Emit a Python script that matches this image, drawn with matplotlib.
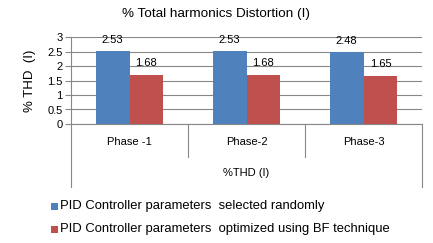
import matplotlib.pyplot as plt
import numpy as np
from matplotlib import rcParams
from matplotlib.patches import Rectangle

rcParams.update({
    "font.family": ["Liberation Sans", "DejaVu Sans"],
})

phases = ["Phase -1", "Phase-2", "Phase-3"]
group_label = "%THD (I)"
random_vals = [2.53, 2.53, 2.48]
bf_vals = [1.68, 1.68, 1.65]
series_names = ["PID Controller parameters  selected randomly",
                "PID Controller parameters  optimized using BF technique"]
yticks = [0, 0.5, 1, 1.5, 2, 2.5, 3]

W, H = 433, 243
fig = plt.figure(figsize=(W / 100, H / 100), dpi=100, facecolor="white")

# plot area in pixel coords
x0, x1, ytop, ybot = 71, 422, 37, 124
ax = fig.add_axes([x0 / W, 1 - ybot / H, (x1 - x0) / W, (ybot - ytop) / H])

blue, red = "#4F81BD", "#C0504D"
grid = "#878787"
x = np.arange(len(phases))
bw = 0.29
ax.bar(x - bw / 2, random_vals, bw, color=blue, zorder=3)
ax.bar(x + bw / 2, bf_vals, bw, color=red, zorder=3)

for xi, v in zip(x, random_vals):
    ax.annotate(f"{v:.2f}", (xi - bw / 2, v), xytext=(0, 6), textcoords="offset pixels",
                ha="center", va="bottom", fontsize=8, zorder=4)
for xi, v in zip(x, bf_vals):
    ax.annotate(f"{v:.2f}", (xi + bw / 2, v), xytext=(0, 7), textcoords="offset pixels",
                ha="center", va="bottom", fontsize=8, zorder=4)

ax.set_xlim(-0.5, len(phases) - 0.5)
ax.set_ylim(0, 3)
ax.set_yticks(yticks)
ax.set_yticklabels([f"{t:g}" for t in yticks], fontsize=8)
ax.yaxis.grid(True, color=grid, lw=0.8, zorder=0)
ax.tick_params(axis="y", length=4, color=grid, pad=2)
ax.set_xticks([])
for s in ["top", "right"]:
    ax.spines[s].set_visible(False)
for s in ["left", "bottom"]:
    ax.spines[s].set_color(grid)
    ax.spines[s].set_linewidth(0.8)
ax.set_ylabel("% THD  (I)", fontsize=9.5, labelpad=8)

# multi-level category axis drawn below
trans = ax.get_xaxis_transform()
def ypix(py):
    return (ybot - py) / (ybot - ytop)

for i, b in enumerate(np.arange(len(phases) + 1) - 0.5):
    outer = i == 0 or i == len(phases)
    ax.plot([b, b], [0, ypix(187 if outer else 157)], color=grid, lw=0.8,
            transform=trans, clip_on=False)
for xi, p in zip(x, phases):
    ax.text(xi, ypix(142), p, transform=trans, ha="center", va="center", fontsize=8)
ax.text((len(phases) - 1) / 2, ypix(173), group_label, transform=trans,
        ha="center", va="center", fontsize=8)

fig.text(0.5, 1 - 14 / H, "% Total harmonics Distortion (I)", ha="center", va="center", fontsize=9.7)

# legend
for py, c, name in [(206, blue, series_names[0]), (229, red, series_names[1])]:
    fig.patches.append(Rectangle(((51) / W, 1 - (py + 3.5) / H), 7 / W, 7 / H,
                                 transform=fig.transFigure, facecolor=c, edgecolor="none"))
    fig.text(60 / W, 1 - py / H, name, ha="left", va="center", fontsize=9.4)

fig.savefig("out.png", dpi=100)
